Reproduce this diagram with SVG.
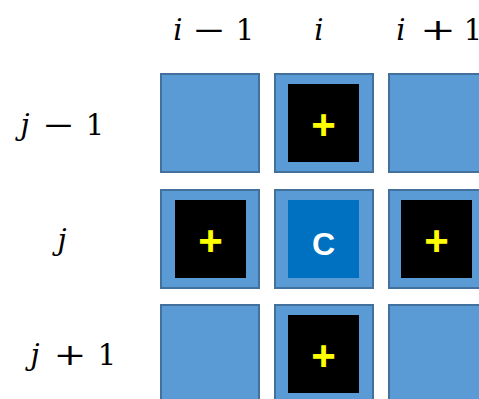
<svg xmlns="http://www.w3.org/2000/svg" width="479" height="399" viewBox="0 0 479 399">
<style>
.cell{fill:#5B9BD5;stroke:#41719C;stroke-width:2}
.blk{fill:#000}
.ctr{fill:#0070C0}
.pl{fill:#FFFF00;font-family:"Liberation Sans",Arial,sans-serif;font-weight:bold;font-size:42px;text-anchor:middle}
.c{fill:#FFFFFF;font-family:"Liberation Sans",Arial,sans-serif;font-weight:bold;font-size:32px;text-anchor:middle}
.lb{fill:#000;font-family:"DejaVu Serif","Liberation Serif",serif;font-size:29px;text-anchor:middle}
.it{font-style:italic}
</style>
<rect width="479" height="399" fill="#FFFFFF"/>
<g id="labels">
<text class="lb it" x="178" y="40">i</text>
<text class="lb" x="209" y="40" textLength="34" lengthAdjust="spacingAndGlyphs">−</text>
<text class="lb" x="245" y="40">1</text>
<text class="lb it" x="319" y="40">i</text>
<text class="lb it" x="401" y="40">i</text>
<text class="lb" x="438" y="40" textLength="36" lengthAdjust="spacingAndGlyphs">+</text>
<text class="lb" x="473" y="40">1</text>
<text class="lb it" x="25" y="135">j</text>
<text class="lb" x="58.5" y="135" textLength="33" lengthAdjust="spacingAndGlyphs">−</text>
<text class="lb" x="95" y="135">1</text>
<text class="lb it" x="62" y="250">j</text>
<text class="lb it" x="35" y="365">j</text>
<text class="lb" x="70" y="365" textLength="33" lengthAdjust="spacingAndGlyphs">+</text>
<text class="lb" x="107" y="365">1</text>
</g>
<g id="cell-r1c1"><rect class="cell" x="161" y="74" width="98" height="98"/></g>
<g id="cell-r1c2"><rect class="cell" x="275" y="74" width="98" height="98"/><rect class="blk" x="288" y="84" width="71" height="78"/><text class="pl" x="323.5" y="139">+</text></g>
<g id="cell-r1c3"><rect class="cell" x="389" y="74" width="98" height="98"/></g>
<g id="cell-r2c1"><rect class="cell" x="161" y="190" width="98" height="98"/><rect class="blk" x="175" y="200" width="71" height="78"/><text class="pl" x="210.5" y="255">+</text></g>
<g id="cell-r2c2"><rect class="cell" x="275" y="190" width="98" height="98"/><rect class="ctr" x="288" y="200" width="71" height="78"/><text class="c" x="323.5" y="255">C</text></g>
<g id="cell-r2c3"><rect class="cell" x="389" y="190" width="98" height="98"/><rect class="blk" x="401" y="200" width="71" height="78"/><text class="pl" x="436.5" y="255">+</text></g>
<g id="cell-r3c1"><rect class="cell" x="161" y="305" width="98" height="98"/></g>
<g id="cell-r3c2"><rect class="cell" x="275" y="305" width="98" height="98"/><rect class="blk" x="288" y="315" width="71" height="78"/><text class="pl" x="323.5" y="370">+</text></g>
<g id="cell-r3c3"><rect class="cell" x="389" y="305" width="98" height="98"/></g>
<g id="connectors"/>
</svg>
